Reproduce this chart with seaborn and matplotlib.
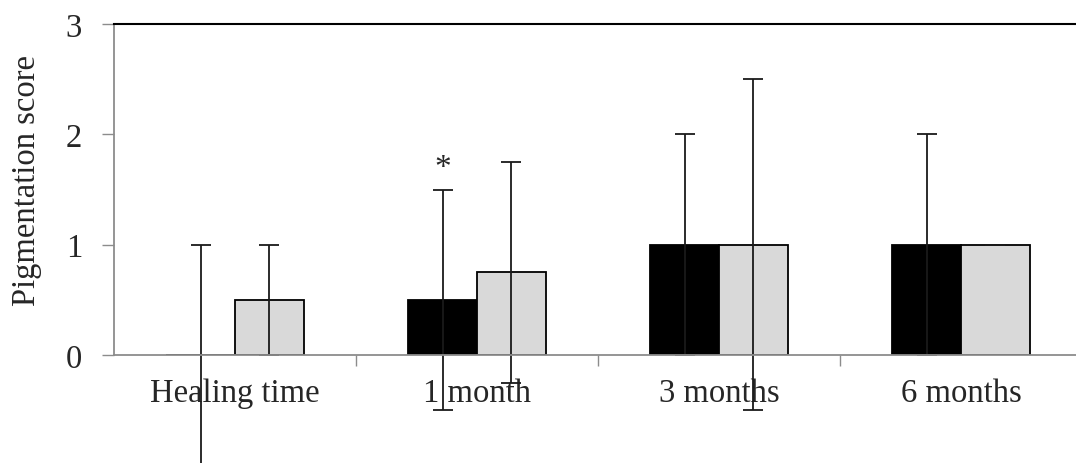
import numpy as np
import pandas as pd
import matplotlib
matplotlib.use('Agg')
import matplotlib.pyplot as plt
import seaborn as sns

# ── data ────────────────────────────────────────────────────────────────────
categories = ['Healing time', '1 month', '3 months', '6 months']
groups = ['A', 'B']
mean_a = [0.0, 0.5, 1.0, 1.0]
mean_b = [0.5, 0.75, 1.0, 1.0]
sd_a = [1.0, 1.0, 1.0, 1.0]
sd_b = [0.5, 1.0, 1.5, 0.0]
y_ticks = [0, 1, 2, 3]

df = pd.DataFrame({
    'time': categories * 2,
    'group': ['A'] * 4 + ['B'] * 4,
    'score': mean_a + mean_b,
})

# ── style ───────────────────────────────────────────────────────────────────
sns.set_style('white')
plt.rcParams['font.family'] = ['Liberation Serif', 'DejaVu Serif']
axis_grey = '#8c8c8c'

fig = plt.figure(figsize=(10.76, 4.64), dpi=100)
ax = fig.add_axes([114 / 1076, 108 / 464, 968 / 1076, 331 / 464])

sns.barplot(data=df, x='time', y='score', hue='group', order=categories,
            hue_order=groups, palette={'A': 'black', 'B': '#d9d9d9'},
            width=0.57, gap=0, edgecolor='black', linewidth=1.3,
            legend=False, ax=ax)

# error bars, centred on each bar
for cont, sds in zip(ax.containers, [sd_a, sd_b]):
    for bar, sd in zip(cont, sds):
        xc = bar.get_x() + bar.get_width() / 2
        ax.errorbar(xc, bar.get_height(), yerr=sd, fmt='none', ecolor='#1a1a1a',
                    elinewidth=1.3, capsize=7, capthick=1.3, clip_on=False, zorder=5)

# significance marker over the 1 month black bar
b = ax.containers[0][1]
ax.text(b.get_x() + b.get_width() / 2, mean_a[1] + sd_a[1] + 0.06, '*',
        ha='center', va='bottom', fontsize=24)

ax.set_xlim(-0.5, 3.5)
ax.set_ylim(0, 3)
ax.set_yticks(y_ticks)
ax.set_xticks(range(len(categories)))
ax.set_xticklabels(categories)
ax.set_xticks(np.arange(0.5, len(categories) - 0.5, 1), minor=True)
ax.tick_params(axis='x', which='major', length=0, pad=16, labelsize=23.5)
ax.tick_params(axis='x', which='minor', length=8, width=1, color=axis_grey,
               direction='out', bottom=True)
ax.tick_params(axis='y', length=9, width=1, color=axis_grey, direction='out',
               left=True, pad=14, labelsize=23.5)

ax.set_xlabel('')
ax.set_ylabel('Pigmentation score', fontsize=23.5)
ax.yaxis.set_label_coords(-0.074, 0.53)

for side in ['left', 'bottom']:
    ax.spines[side].set_color(axis_grey)
    ax.spines[side].set_linewidth(1.3)
ax.spines['bottom'].set_zorder(6)
ax.spines['top'].set_color('black')
ax.spines['top'].set_linewidth(1.5)
ax.spines['right'].set_visible(False)

fig.savefig('out.png', dpi=100)
